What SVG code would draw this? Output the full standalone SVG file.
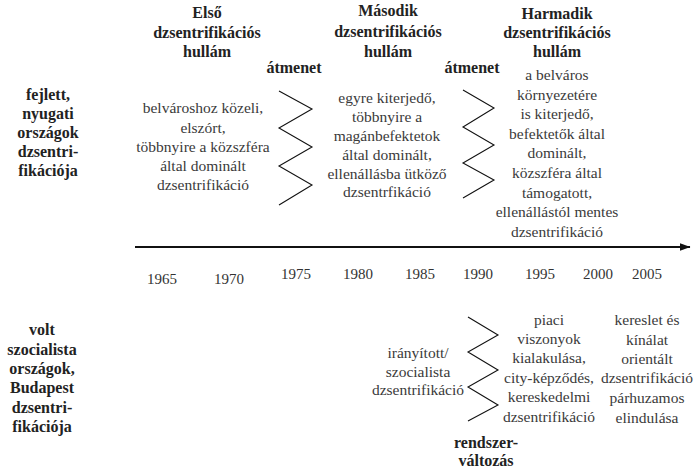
<svg xmlns="http://www.w3.org/2000/svg" width="695" height="469" viewBox="0 0 695 469" font-family="'Liberation Serif', 'DejaVu Serif', serif" font-size="15.5">
  <style>
    text { text-anchor: middle; }
    .hd { font-weight: bold; font-size: 16px; fill: #222; }
    .bd { fill: #3a3a3a; }
    .yr { fill: #333; font-size: 15px; }
    .zig { fill: none; stroke: #111; stroke-width: 1.1; }
    .axis { stroke: #111; stroke-width: 2.2; }
  </style>
  <defs>
    <marker id="arrowhead" viewBox="0 0 11 8" refX="10.5" refY="4" markerWidth="11" markerHeight="8" markerUnits="userSpaceOnUse" orient="auto">
      <path d="M0,0 L11,4 L0,8 Z" fill="#111"/>
    </marker>
  </defs>

  <rect width="695" height="469" fill="#fff"/>

  <!-- row labels -->
  <g id="row-western">
    <text class="hd" x="48" y="100">fejlett,</text>
    <text class="hd" x="48" y="119">nyugati</text>
    <text class="hd" x="48" y="138">országok</text>
    <text class="hd" x="48" y="157">dzsentri-</text>
    <text class="hd" x="48" y="176">fikációja</text>
  </g>
  <g id="row-socialist">
    <text class="hd" x="42" y="335">volt</text>
    <text class="hd" x="42" y="355">szocialista</text>
    <text class="hd" x="42" y="374">országok,</text>
    <text class="hd" x="42" y="393">Budapest</text>
    <text class="hd" x="42" y="413">dzsentri-</text>
    <text class="hd" x="42" y="432">fikációja</text>
  </g>

  <!-- first wave -->
  <g id="wave-1">
    <text class="hd" x="207" y="18">Első</text>
    <text class="hd" x="207" y="38">dzsentrifikációs</text>
    <text class="hd" x="207" y="57">hullám</text>
    <text class="bd" x="203" y="113">belvároshoz közeli,</text>
    <text class="bd" x="203" y="133">elszórt,</text>
    <text class="bd" x="203" y="152">többnyire a közszféra</text>
    <text class="bd" x="203" y="171">által dominált</text>
    <text class="bd" x="203" y="190">dzsentrifikáció</text>
  </g>

  <g id="transition-1">
    <text class="hd" x="294" y="73">átmenet</text>
  </g>

  <!-- second wave -->
  <g id="wave-2">
    <text class="hd" x="388" y="16">Második</text>
    <text class="hd" x="388" y="37">dzsentrifikációs</text>
    <text class="hd" x="388" y="57">hullám</text>
    <text class="bd" x="387" y="103">egyre kiterjedő,</text>
    <text class="bd" x="387" y="122">többnyire a</text>
    <text class="bd" x="387" y="141">magánbefektetok</text>
    <text class="bd" x="387" y="160">által dominált,</text>
    <text class="bd" x="387" y="179">ellenállásba ütköző</text>
    <text class="bd" x="387" y="197">dzsentrfikáció</text>
  </g>

  <g id="transition-2">
    <text class="hd" x="472" y="73">átmenet</text>
  </g>

  <!-- third wave -->
  <g id="wave-3">
    <text class="hd" x="557" y="19">Harmadik</text>
    <text class="hd" x="557" y="38">dzsentrifikációs</text>
    <text class="hd" x="557" y="57">hullám</text>
    <text class="bd" x="557" y="80">a belváros</text>
    <text class="bd" x="557" y="99.6">környezetére</text>
    <text class="bd" x="557" y="119.2">is kiterjedő,</text>
    <text class="bd" x="557" y="138.8">befektetők által</text>
    <text class="bd" x="557" y="158.4">dominált,</text>
    <text class="bd" x="557" y="178">közszféra által</text>
    <text class="bd" x="557" y="197.6">támogatott,</text>
    <text class="bd" x="557" y="217.2">ellenállástól mentes</text>
    <text class="bd" x="557" y="236.8">dzsentrifikáció</text>
  </g>

  <!-- Budapest stages -->
  <g id="directed">
    <text class="bd" x="418" y="358">irányított/</text>
    <text class="bd" x="418" y="377">szocialista</text>
    <text class="bd" x="418" y="395">dzsentrifikáció</text>
  </g>
  <g id="market">
    <text class="bd" x="549" y="325">piaci</text>
    <text class="bd" x="549" y="344">viszonyok</text>
    <text class="bd" x="549" y="363">kialakulása,</text>
    <text class="bd" x="549" y="383">city-képződés,</text>
    <text class="bd" x="549" y="402">kereskedelmi</text>
    <text class="bd" x="549" y="422">dzsentrifikáció</text>
  </g>
  <g id="parallel">
    <text class="bd" x="647" y="325">kereslet és</text>
    <text class="bd" x="647" y="345">kínálat</text>
    <text class="bd" x="647" y="364">orientált</text>
    <text class="bd" x="647" y="383">dzsentrifikáció</text>
    <text class="bd" x="647" y="403">párhuzamos</text>
    <text class="bd" x="647" y="423">elindulása</text>
  </g>
  <g id="regime-change">
    <text class="hd" x="486" y="448">rendszer-</text>
    <text class="hd" x="486" y="466">változás</text>
  </g>

  <!-- timeline years -->
  <g id="years">
    <text class="yr" x="162" y="284">1965</text>
    <text class="yr" x="229" y="284">1970</text>
    <text class="yr" x="296" y="279">1975</text>
    <text class="yr" x="358" y="279">1980</text>
    <text class="yr" x="420" y="279">1985</text>
    <text class="yr" x="478" y="279">1990</text>
    <text class="yr" x="540" y="279">1995</text>
    <text class="yr" x="598" y="279">2000</text>
    <text class="yr" x="647" y="279">2005</text>
  </g>

  <!-- connectors: timeline axis and transition zigzags -->
  <g id="connectors">
    <line class="axis" x1="135" y1="247" x2="690" y2="247" marker-end="url(#arrowhead)"/>
    <polyline class="zig" points="279,91 312,109 279,128 312,147 279,166 312,185 279,205"/>
    <polyline class="zig" points="463,90 494,108 463,127 494,145 463,163 494,180 463,198"/>
    <polyline class="zig" points="468,317 498,335 468,352 498,370 468,387 498,405 468,421"/>
  </g>
</svg>
